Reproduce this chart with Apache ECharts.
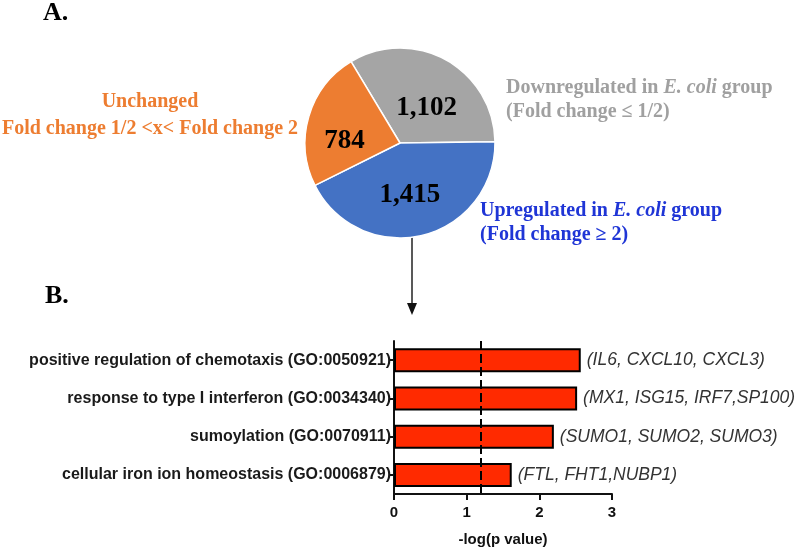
<!DOCTYPE html>
<html><head><meta charset="utf-8">
<script src="https://cdn.jsdelivr.net/npm/echarts@6/dist/echarts.min.js"></script>
<style>html,body{margin:0;padding:0;background:#fff}#c{width:800px;height:552px}</style>
</head><body><div id="c"></div>
<script>
// ---- data ----
const pieNames = ['Downregulated', 'Upregulated', 'Unchanged'];
const pieValues = [1102, 1415, 784];
const goTerms = [
  'positive regulation of chemotaxis (GO:0050921)',
  'response to type I interferon (GO:0034340)',
  'sumoylation (GO:0070911)',
  'cellular iron ion homeostasis (GO:0006879)'
];
const logP = [2.57, 2.52, 2.20, 1.62];
const genes = [
  '(IL6, CXCL10, CXCL3)',
  '(MX1, ISG15, IRF7,SP100)',
  '(SUMO1, SUMO2, SUMO3)',
  '(FTL, FHT1,NUBP1)'
];
const xMin = 0, xMax = 3, xStep = 1;
const threshold = 1.2;

// ---- styles ----
const pieColors = ['#A5A5A5', '#4472C4', '#ED7D31'];
const pieLabelOffsets = [[2, 9], [-2, 3], [-7, 12]];
const SERIF = '"Liberation Serif", "Times New Roman", serif';
const SANS = '"Liberation Sans", Arial, sans-serif';

const chart = echarts.init(document.getElementById('c'), null, {renderer: 'canvas'});

const serifRich = (color) => ({
  i: {fontFamily: SERIF, fontWeight: 'bold', fontStyle: 'italic', fontSize: 20, fill: color, color: color}
});

chart.setOption({
  animation: false,
  backgroundColor: '#fff',
  grid: {left: 394, top: 341, width: 218, height: 153, containLabel: false},
  xAxis: {
    type: 'value', min: xMin, max: xMax, interval: xStep,
    splitLine: {show: false},
    axisLine: {show: true, lineStyle: {color: '#111', width: 2}},
    axisTick: {show: true, length: 6, lineStyle: {color: '#111', width: 2}},
    axisLabel: {color: '#111', fontFamily: SANS, fontWeight: 'bold', fontSize: 15, margin: 11},
    name: '-log(p value)', nameLocation: 'middle', nameGap: 38,
    nameTextStyle: {color: '#111', fontFamily: SANS, fontWeight: 'bold', fontSize: 15}
  },
  yAxis: {
    type: 'category', data: goTerms, inverse: true,
    axisLine: {show: true, lineStyle: {color: '#111', width: 2}},
    axisTick: {show: true, alignWithLabel: true, length: 5, lineStyle: {color: '#111', width: 2}},
    axisLabel: {color: '#1a1a1a', fontFamily: SANS, fontWeight: 'bold', fontSize: 16, margin: 3},
    splitLine: {show: false}
  },
  series: [
    {
      type: 'pie',
      center: [400, 143], radius: 95,
      startAngle: 121, clockwise: true,
      labelLine: {show: false},
      itemStyle: {borderColor: '#fff', borderWidth: 1.5},
      emphasis: {disabled: true},
      label: {
        show: true, position: 'inside',
        fontFamily: SERIF, fontWeight: 'bold', fontSize: 27, color: '#000',
        formatter: p => p.value.toLocaleString('en-US')
      },
      data: pieNames.map((n, i) => ({
        name: n, value: pieValues[i],
        itemStyle: {color: pieColors[i]},
        label: {offset: pieLabelOffsets[i]}
      }))
    },
    {
      type: 'bar',
      data: logP,
      barWidth: 24,
      itemStyle: {color: '#FF2A00', borderColor: '#000', borderWidth: 2},
      label: {
        show: true, position: 'right', distance: 6,
        fontFamily: SANS, fontStyle: 'italic', fontSize: 17.5, color: '#333',
        formatter: p => genes[p.dataIndex]
      },
      markLine: {
        silent: true, symbol: 'none',
        label: {show: false},
        lineStyle: {color: '#000', width: 2, type: [9, 4]},
        data: [{xAxis: threshold}]
      }
    }
  ],
  graphic: [
    {type: 'text', x: 43, y: 0, style: {text: 'A.', font: 'bold 26px ' + SERIF, fill: '#000'}},
    {type: 'text', x: 45, y: 283, style: {text: 'B.', font: 'bold 26px ' + SERIF, fill: '#000'}},
    {type: 'text', x: 150, y: 88, style: {
      text: 'Unchanged\nFold change 1/2 <x< Fold change 2',
      font: 'bold 20px ' + SERIF, fill: '#ED7D31', textAlign: 'center', lineHeight: 27
    }},
    {type: 'text', x: 506, y: 76, style: {
      text: 'Downregulated in {i|E. coli} group\n(Fold change ≤ 1/2)',
      font: 'bold 20px ' + SERIF, fill: '#A0A0A0', lineHeight: 24,
      rich: serifRich('#A0A0A0')
    }},
    {type: 'text', x: 480, y: 199, style: {
      text: 'Upregulated in {i|E. coli} group\n(Fold change ≥ 2)',
      font: 'bold 20px ' + SERIF, fill: '#1F35D6', lineHeight: 24,
      rich: serifRich('#1F35D6')
    }},
    {type: 'line', shape: {x1: 412, y1: 207, x2: 412, y2: 306}, style: {stroke: '#222', lineWidth: 1.5}},
    {type: 'polygon', shape: {points: [[407, 303], [417, 303], [412, 315]]}, style: {fill: '#111'}}
  ]
});
</script></body></html>
